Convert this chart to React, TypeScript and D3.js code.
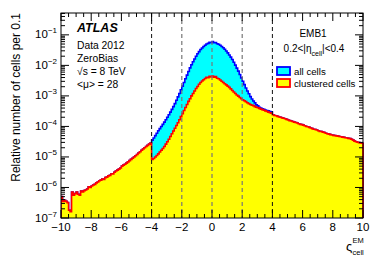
import React, { useEffect, useRef } from "react";
import * as d3 from "d3";

// histogram binning (0.1 wide bins)
const binWidth = 0.1;
const xMin = -10;
const xMax = 10;

// clustered cells, -10 < zeta < -4
const clusteredLow = [
  5.0e-7, 3.5e-7, 3.8e-7, 3.5e-7, 3.2e-7, 1.8e-7, 1.6e-7, 7.1e-7, 5.6e-7, 6.3e-7,
  7.1e-7, 6.0e-7, 5.6e-7, 7.6e-7, 7.1e-7, 7.9e-7, 8.3e-7, 8.9e-7, 1.05e-6, 1.0e-6,
  1.12e-6, 1.2e-6, 1.26e-6, 1.41e-6, 1.51e-6, 1.66e-6, 1.74e-6, 1.9e-6, 1.82e-6, 2.1e-6,
  2.19e-6, 2.4e-6, 2.5e-6, 2.75e-6, 2.8e-6, 3.16e-6, 3.47e-6, 3.7e-6, 4.0e-6, 4.37e-6,
  5.0e-6, 5.4e-6, 5.75e-6, 6.3e-6, 6.9e-6, 7.6e-6, 8.3e-6, 9.1e-6, 1.0e-5, 1.1e-5,
  1.2e-5, 1.35e-5, 1.48e-5, 1.66e-5, 1.82e-5, 2.0e-5, 2.19e-5, 2.4e-5, 2.63e-5, 2.88e-5,
];

// clustered cells, -4 < zeta < 4
const clusteredCore = [
  8.3e-6, 8.9e-6, 1.0e-5, 1.12e-5, 1.26e-5, 1.45e-5, 1.66e-5, 1.9e-5, 2.19e-5, 2.63e-5,
  3.16e-5, 3.8e-5, 4.68e-5, 5.75e-5, 7.08e-5, 8.7e-5, 1.07e-4, 1.32e-4, 1.66e-4, 2.09e-4,
  2.63e-4, 3.31e-4, 4.17e-4, 5.25e-4, 6.6e-4, 8.1e-4, 1.0e-3, 1.2e-3, 1.45e-3, 1.74e-3,
  2.04e-3, 2.4e-3, 2.75e-3, 3.09e-3, 3.39e-3, 3.7e-3, 4.07e-3, 3.98e-3, 4.37e-3, 4.17e-3,
  4.47e-3, 4.07e-3, 4.27e-3, 3.8e-3, 3.63e-3, 3.31e-3, 3.02e-3, 2.75e-3, 2.51e-3, 2.29e-3,
  2.09e-3, 1.9e-3, 1.7e-3, 1.51e-3, 1.35e-3, 1.2e-3, 1.07e-3, 9.8e-4, 8.9e-4, 8.1e-4,
  7.4e-4, 6.9e-4, 6.5e-4, 6.0e-4, 5.6e-4, 5.25e-4, 5.0e-4, 4.8e-4, 4.47e-4, 4.27e-4,
  4.07e-4, 3.9e-4, 3.7e-4, 3.55e-4, 3.39e-4, 3.24e-4, 3.09e-4, 2.95e-4, 2.82e-4, 2.69e-4,
];

// clustered cells, 4 < zeta < 10
const clusteredHigh = [
  2.4e-4, 2.29e-4, 2.24e-4, 2.14e-4, 2.04e-4, 2.0e-4, 1.9e-4, 1.86e-4, 1.78e-4, 1.7e-4,
  1.62e-4, 1.55e-4, 1.51e-4, 1.45e-4, 1.38e-4, 1.35e-4, 1.29e-4, 1.23e-4, 1.17e-4, 1.15e-4,
  1.1e-4, 1.05e-4, 1.0e-4, 9.8e-5, 9.3e-5, 8.9e-5, 8.5e-5, 8.1e-5, 7.9e-5, 7.6e-5,
  7.2e-5, 6.9e-5, 6.8e-5, 6.5e-5, 6.3e-5, 6.0e-5, 5.75e-5, 5.6e-5, 5.4e-5, 5.25e-5,
  5.1e-5, 5.0e-5, 4.9e-5, 4.8e-5, 4.68e-5, 4.57e-5, 4.47e-5, 4.37e-5, 4.27e-5, 4.17e-5,
  4.07e-5, 3.98e-5, 3.8e-5, 3.55e-5, 3.31e-5, 3.16e-5, 3.02e-5, 2.95e-5, 2.88e-5, 2.82e-5,
];

// all cells, -4 < zeta < 4 (outside it equals the clustered cells)
const allCellsCore = [
  3.55e-5, 4.17e-5, 5.0e-5, 6.0e-5, 7.2e-5, 8.5e-5, 1.0e-4, 1.17e-4, 1.38e-4, 1.66e-4,
  2.0e-4, 2.4e-4, 2.95e-4, 3.63e-4, 4.47e-4, 5.6e-4, 7.2e-4, 9.3e-4, 1.2e-3, 1.58e-3,
  2.09e-3, 2.75e-3, 3.63e-3, 4.79e-3, 6.3e-3, 8.3e-3, 1.05e-2, 1.32e-2, 1.62e-2, 2.0e-2,
  2.4e-2, 2.82e-2, 3.31e-2, 3.72e-2, 4.17e-2, 4.57e-2, 5.0e-2, 5.25e-2, 5.75e-2, 5.5e-2,
  6.0e-2, 5.5e-2, 5.6e-2, 5.1e-2, 4.9e-2, 4.57e-2, 4.17e-2, 3.8e-2, 3.39e-2, 2.95e-2,
  2.57e-2, 2.19e-2, 1.86e-2, 1.55e-2, 1.26e-2, 1.02e-2, 8.1e-3, 6.5e-3, 5.0e-3, 3.9e-3,
  3.02e-3, 2.34e-3, 1.82e-3, 1.45e-3, 1.17e-3, 9.5e-4, 7.9e-4, 6.8e-4, 5.9e-4, 5.1e-4,
  4.7e-4, 4.27e-4, 3.98e-4, 3.8e-4, 3.63e-4, 3.47e-4, 3.31e-4, 3.24e-4, 3.09e-4, 3.02e-4,
];

const xTicks = [-10, -8, -6, -4, -2, 0, 2, 4, 6, 8, 10];
const yDecades = [-7, -6, -5, -4, -3, -2, -1];
const cutLines = [-4, -2, 0, 2, 4];
const infoLines = ["Data 2012", "ZeroBias", "√s = 8 TeV", "<μ> = 28"];
const legendItems = [
  { label: "all cells", fill: "#00ffff", stroke: "#0000ff" },
  { label: "clustered cells", fill: "#ffff00", stroke: "#ff0000" },
];

const font = "'Liberation Sans', Arial, Helvetica, sans-serif";

const App: React.FC = () => {
  const svgRef = useRef<SVGSVGElement | null>(null);

  useEffect(() => {
    if (!svgRef.current) return;
    const svg = d3.select(svgRef.current);
    svg.selectAll("*").remove();

    const left = 61;
    const right = 363;
    const top = 13;
    const bottom = 218;
    const yLow = 1e-7;
    const yHigh = 0.52;

    const x = d3.scaleLinear().domain([xMin, xMax]).range([left, right]);
    const y = d3.scaleLog().domain([yLow, yHigh]).range([bottom, top]);

    const clustered = [...clusteredLow, ...clusteredCore, ...clusteredHigh];
    const allCells = [...clusteredLow, ...allCellsCore, ...clusteredHigh];

    svg
      .append("defs")
      .append("clipPath")
      .attr("id", "plotClip")
      .append("rect")
      .attr("x", left)
      .attr("y", top)
      .attr("width", right - left + 1)
      .attr("height", bottom - top);

    const histPoints = (vals: number[]) => {
      const pts: [number, number][] = [[xMin, yLow]];
      vals.forEach((v, i) => {
        const x0 = xMin + i * binWidth;
        pts.push([x0, v], [x0 + binWidth, v]);
      });
      pts.push([xMax, yLow]);
      return pts;
    };

    const line = d3
      .line<[number, number]>()
      .x((d) => x(d[0]))
      .y((d) => y(Math.max(d[1], yLow)));

    const plot = svg.append("g").attr("clip-path", "url(#plotClip)");

    [
      { vals: allCells, item: legendItems[0] },
      { vals: clustered, item: legendItems[1] },
    ].forEach(({ vals, item }) => {
      const pts = histPoints(vals);
      plot
        .append("path")
        .attr("d", line(pts) + "Z")
        .attr("fill", item.fill)
        .attr("stroke", "none");
      plot
        .append("path")
        .attr("d", line(pts))
        .attr("fill", "none")
        .attr("stroke", item.stroke)
        .attr("stroke-width", 1.6);
    });

    // dashed reference lines
    cutLines.forEach((c) => {
      const outer = Math.abs(c) === 4;
      svg
        .append("line")
        .attr("x1", x(c))
        .attr("x2", x(c))
        .attr("y1", top)
        .attr("y2", bottom)
        .attr("stroke", outer ? "#111" : "#777")
        .attr("stroke-width", outer ? 1 : 1.2)
        .attr("stroke-dasharray", "4,3");
    });

    // frame
    svg
      .append("rect")
      .attr("x", left)
      .attr("y", top)
      .attr("width", right - left)
      .attr("height", bottom - top)
      .attr("fill", "none")
      .attr("stroke", "#000")
      .attr("stroke-width", 1);

    const ticks = svg.append("g").attr("stroke", "#000").attr("stroke-width", 1);
    const majLen = 8;
    const minLen = 4;

    // x ticks
    d3.range(xMin, xMax + 0.001, 0.5).forEach((t) => {
      const major = xTicks.includes(t);
      const len = major ? majLen : minLen;
      const px = x(t);
      ticks.append("line").attr("x1", px).attr("x2", px).attr("y1", bottom).attr("y2", bottom - len);
      ticks.append("line").attr("x1", px).attr("x2", px).attr("y1", top).attr("y2", top + len);
    });

    // y ticks
    yDecades.forEach((d) => {
      for (let k = 1; k <= 9; k++) {
        const v = k * Math.pow(10, d);
        if (v > yHigh) break;
        const len = k === 1 ? majLen : minLen;
        const py = y(v);
        ticks.append("line").attr("x1", left).attr("x2", left + len).attr("y1", py).attr("y2", py);
        ticks.append("line").attr("x1", right).attr("x2", right - len).attr("y1", py).attr("y2", py);
      }
    });

    const text = svg.append("g").attr("font-family", font).attr("fill", "#000");

    // x tick labels
    xTicks.forEach((t) => {
      text
        .append("text")
        .attr("x", x(t))
        .attr("y", 231)
        .attr("text-anchor", "middle")
        .attr("font-size", 11.5)
        .text(t < 0 ? `−${Math.abs(t)}` : `${t}`);
    });

    // y tick labels
    yDecades.forEach((d) => {
      const tx = text
        .append("text")
        .attr("x", 57)
        .attr("y", y(Math.pow(10, d)) + 3.5)
        .attr("text-anchor", "end")
        .attr("font-size", 11.5);
      tx.append("tspan").text("10");
      tx.append("tspan")
        .attr("font-size", 8)
        .attr("dy", -5)
        .text(`−${Math.abs(d)}`);
    });

    // axis titles
    text
      .append("text")
      .attr("transform", "translate(20,13) rotate(-90)")
      .attr("text-anchor", "end")
      .attr("font-size", 12)
      .text("Relative number of cells per 0.1");

    text.append("text").attr("x", 346).attr("y", 251).attr("font-size", 13).text("ς");
    text.append("text").attr("x", 352.5).attr("y", 243).attr("font-size", 7.5).text("EM");
    text.append("text").attr("x", 352.5).attr("y", 255).attr("font-size", 7.5).text("cell");

    // ATLAS label block
    text
      .append("text")
      .attr("x", 77)
      .attr("y", 32)
      .attr("font-size", 12.5)
      .attr("font-weight", "bold")
      .attr("font-style", "italic")
      .text("ATLAS");

    infoLines.forEach((s, i) => {
      text
        .append("text")
        .attr("x", 77)
        .attr("y", 48.5 + i * 13)
        .attr("font-size", 10.3)
        .text(s);
    });

    // region label
    text
      .append("text")
      .attr("x", 313)
      .attr("y", 37)
      .attr("text-anchor", "middle")
      .attr("font-size", 10)
      .text("EMB1");
    const eta = text
      .append("text")
      .attr("x", 314)
      .attr("y", 51.5)
      .attr("text-anchor", "middle")
      .attr("font-size", 10);
    eta.append("tspan").text("0.2<|η");
    eta.append("tspan").attr("font-size", 7).attr("dy", 4.5).text("cell");
    eta.append("tspan").attr("dy", -4.5).text("|<0.4");

    // legend
    legendItems.forEach((it, i) => {
      const ly = 67 + i * 12;
      svg
        .append("rect")
        .attr("x", 277)
        .attr("y", ly)
        .attr("width", 13)
        .attr("height", 8)
        .attr("fill", it.fill)
        .attr("stroke", it.stroke)
        .attr("stroke-width", 1.8);
      text
        .append("text")
        .attr("x", 294)
        .attr("y", ly + 7.5)
        .attr("font-size", 9.7)
        .text(it.label);
    });
  }, []);

  return (
    <svg
      ref={svgRef}
      width={382}
      height={260}
      style={{ position: "absolute", left: 0, top: 0, background: "#fff" }}
    />
  );
};

export default App;
